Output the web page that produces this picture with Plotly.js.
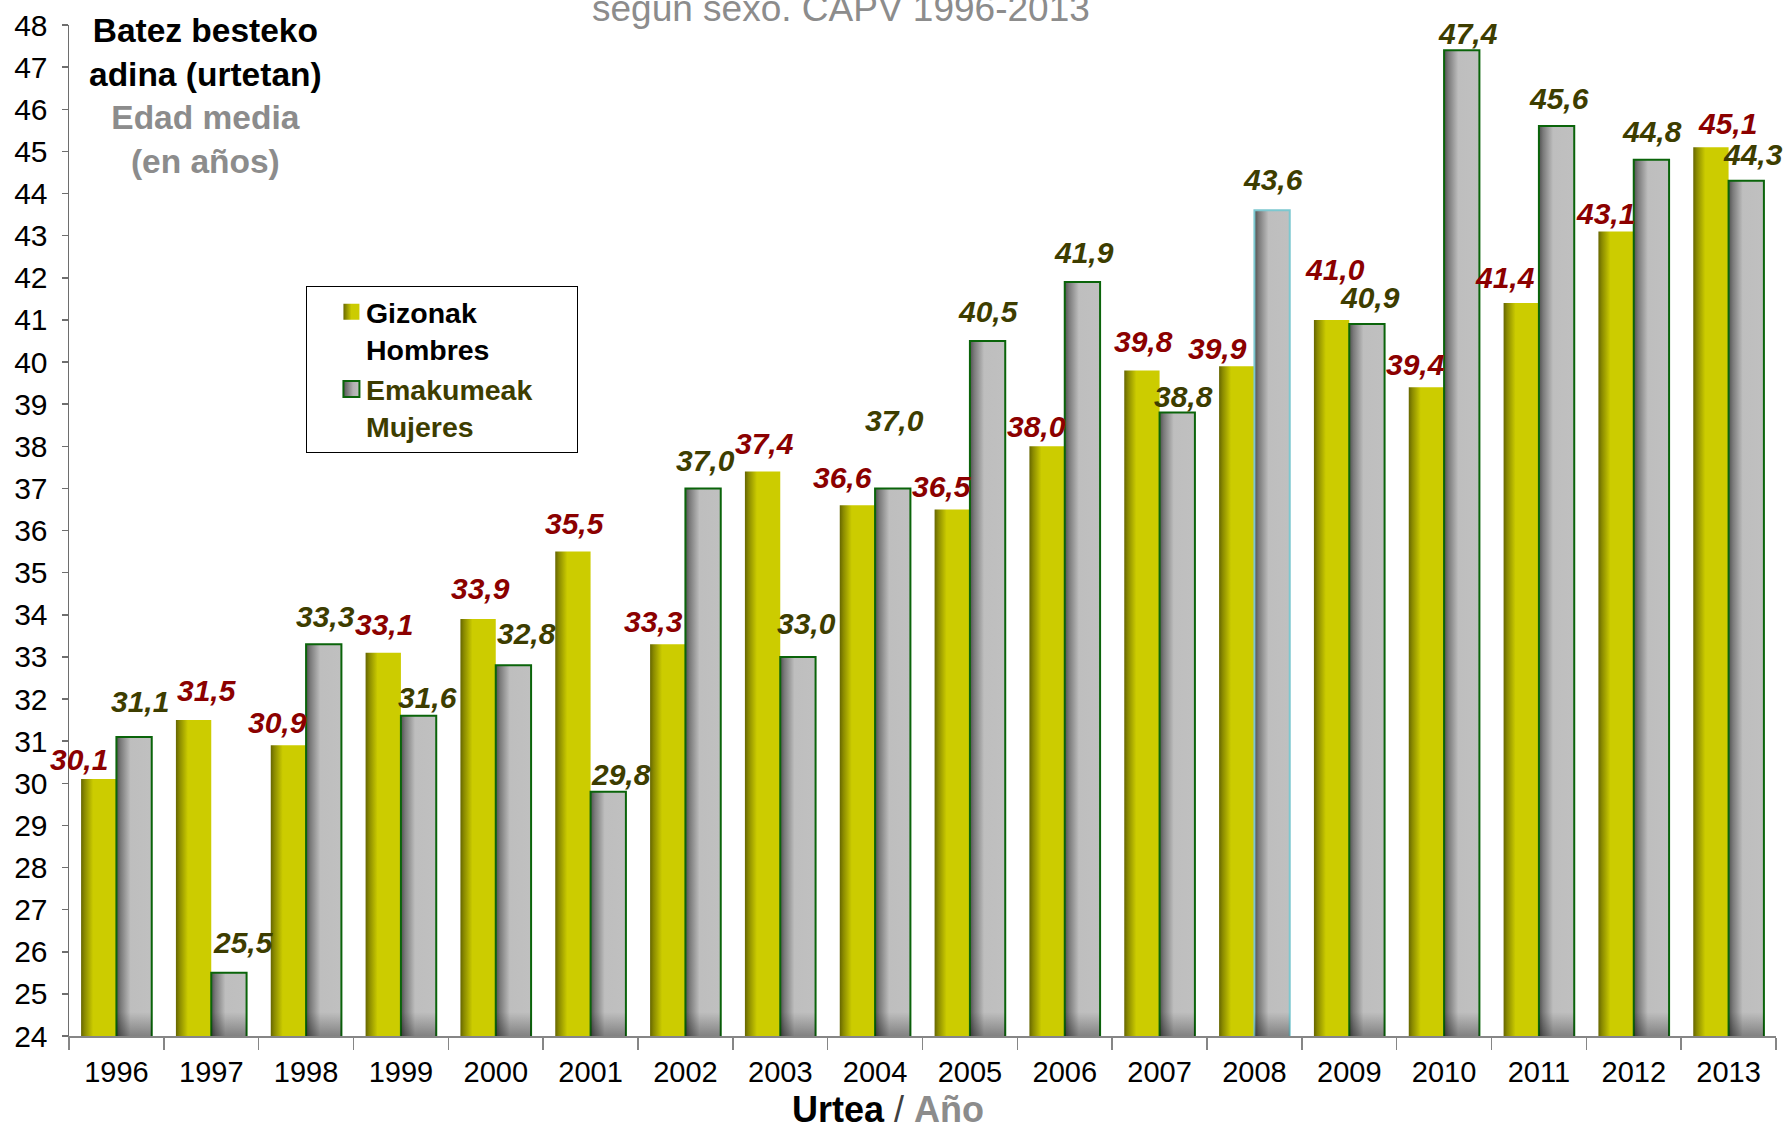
<!DOCTYPE html>
<html>
<head>
<meta charset="utf-8">
<script src="https://cdn.plot.ly/plotly-3.0.1.min.js"></script>
<style>
  html, body { margin: 0; padding: 0; background: #ffffff; }
  #chart { width: 1785px; height: 1126px; }
</style>
</head>
<body>
<div id="chart"></div>
<script>
// ---- data ----
const years = ['1996','1997','1998','1999','2000','2001','2002','2003','2004',
               '2005','2006','2007','2008','2009','2010','2011','2012','2013'];
const men   = [30.1,31.5,30.9,33.1,33.9,35.5,33.3,37.4,36.6,36.5,38.0,39.8,39.9,41.0,39.4,41.4,43.1,45.1];
const women = [31.1,25.5,33.3,31.6,32.8,29.8,37.0,33.0,37.0,40.5,41.9,38.8,43.6,40.9,47.4,45.6,44.8,44.3];
const menName   = 'Gizonak<br>Hombres';
const womenName = 'Emakumeak<br>Mujeres';

// ---- label placement (pixels, style only) ----
const menLabelDx   = [-20, 13,-11,  1,  2,  2,-14,  2,-15,-10,-11,  2,-19,  3,-11,-16,-11, 17];
const menLabelUp   = [ 20, 30, 23, 28, 30, 28, 23, 28, 28, 23, 20, 29, 18, 50, 23, 26, 18, 24];
const womenLabelDx = [  6, 15,  2,  9, 13, 13,  2,  9,  2,  1,  2,  6,  1,  3,  6,  2,  1,  7];
const womenLabelUp = [ 35, 30, 28, 18, 32, 17, 28, 33, 68, 29, 29, 16, 31, 27, 17, 28, 28, 26];

const FONT = "'Liberation Sans', Arial, Helvetica, sans-serif";
const MEN_LBL = '#8B0000';
const WOMEN_LBL = '#3D3D00';
const HALF_BAR = 17.7;

const fmt = v => v.toFixed(1).replace('.', ',');

const womenLine = years.map(y => y === '2008' ? '#7CC8D0' : '#0A640A');

const PAD = '&nbsp;&nbsp;&nbsp;&nbsp;&nbsp;';
const traces = [
  {
    type: 'bar', x: years, y: men, name: menName.replace('<br>', PAD + '<br>'),
    marker: { color: '#CCCC00', line: { width: 0 } },
    hoverinfo: 'x+y'
  },
  {
    type: 'bar', x: years, y: women,
    name: '<span style="color:' + WOMEN_LBL + '">' + womenName.replace('<br>', PAD + '<br>') + '</span>',
    marker: { color: '#C0C0C0', line: { color: womenLine, width: 2 } },
    hoverinfo: 'x+y'
  }
];

const annotations = [];
years.forEach((yr, i) => {
  annotations.push({
    xref: 'x', yref: 'y', x: i, y: men[i], text: '<b><i>' + fmt(men[i]) + '</i></b>',
    showarrow: false, xanchor: 'center', yanchor: 'middle',
    xshift: -HALF_BAR + menLabelDx[i], yshift: menLabelUp[i],
    font: { family: FONT, size: 30, color: MEN_LBL }
  });
  annotations.push({
    xref: 'x', yref: 'y', x: i, y: women[i], text: '<b><i>' + fmt(women[i]) + '</i></b>',
    showarrow: false, xanchor: 'center', yanchor: 'middle',
    xshift: HALF_BAR + womenLabelDx[i], yshift: womenLabelUp[i],
    font: { family: FONT, size: 30, color: WOMEN_LBL }
  });
});

// partially visible chart title at top
annotations.push({
  xref: 'paper', yref: 'paper', x: 0.452, y: 1.016, xanchor: 'center', yanchor: 'middle',
  text: 'según sexo. CAPV 1996-2013', showarrow: false,
  font: { family: FONT, size: 37, color: '#8C8C8C' }
});
// left unit label
annotations.push({
  xref: 'paper', yref: 'paper', x: 0.0797, y: 0.93, xanchor: 'center', yanchor: 'middle',
  align: 'center', showarrow: false,
  text: '<b>Batez besteko<br>adina (urtetan)</b><br><span style="color:#8C8C8C"><b>Edad media<br>(en años)</b></span>',
  font: { family: FONT, size: 33.5, color: '#000000' }
});
// x axis title
annotations.push({
  xref: 'paper', yref: 'paper', x: 0.48, y: 0, xanchor: 'center', yanchor: 'middle',
  yshift: -73, showarrow: false,
  text: '<b>Urtea</b><span style="color:#404040"> / </span><span style="color:#8C8C8C"><b>Año</b></span>',
  font: { family: FONT, size: 36, color: '#000000' }
});

const layout = {
  width: 1785, height: 1126,
  margin: { l: 69, r: 9, t: 25, b: 90, pad: 0 },
  paper_bgcolor: '#ffffff', plot_bgcolor: '#ffffff',
  font: { family: FONT, size: 28, color: '#000000' },
  barmode: 'group', bargap: 0.255, bargroupgap: 0,
  showlegend: true,
  legend: {
    x: 0.1388, y: 0.742, xanchor: 'left', yanchor: 'top',
    bgcolor: '#ffffff', bordercolor: '#000000', borderwidth: 1,
    font: { family: FONT, size: 28.5, color: '#000000', weight: 'bold' },
    valign: 'top', tracegroupgap: 0, itemwidth: 49
  },
  xaxis: {
    type: 'category', range: [-0.5, years.length - 0.5], autorange: false,
    showgrid: false, zeroline: false,
    showline: true, linecolor: '#868686', linewidth: 1.5,
    ticks: 'outside', tickson: 'boundaries', ticklen: 12, tickcolor: '#868686', tickwidth: 1.5,
    tickfont: { family: FONT, size: 29, color: '#000000' },
    tickangle: 0, ticklabelstandoff: 10
  },
  yaxis: {
    range: [24, 48], autorange: false, dtick: 1, tick0: 24, showgrid: false, zeroline: false,
    showline: true, linecolor: '#6E6E6E', linewidth: 1.5,
    ticks: 'outside', ticklen: 6, tickcolor: '#6E6E6E', tickwidth: 1.5,
    tickfont: { family: FONT, size: 30, color: '#000000' },
    ticklabelstandoff: 8
  },
  annotations: annotations
};

function addGradients(gd) {
  const svg = gd.querySelector('svg.main-svg');
  const ns = 'http://www.w3.org/2000/svg';
  const plotH = gd._fullLayout.yaxis._length;
  let defs = svg.querySelector('defs');
  if (!defs) { defs = document.createElementNS(ns, 'defs'); svg.insertBefore(defs, svg.firstChild); }
  function grad(id, stops, attrs) {
    const g = document.createElementNS(ns, 'linearGradient');
    g.setAttribute('id', id);
    Object.keys(attrs).forEach(k => g.setAttribute(k, attrs[k]));
    stops.forEach(s => {
      const st = document.createElementNS(ns, 'stop');
      st.setAttribute('offset', s[0]);
      st.setAttribute('stop-color', s[1]);
      st.setAttribute('stop-opacity', s[2] === undefined ? 1 : s[2]);
      g.appendChild(st);
    });
    defs.appendChild(g);
  }
  grad('gYellow', [[0,'#666600'],[0.1,'#8A8A00'],[0.34,'#CCCC00'],[1,'#CCCC00']], {x1:0,y1:0,x2:1,y2:0});
  grad('gGray', [[0,'#505050'],[0.12,'#7A7A7A'],[0.4,'#BEBEBE'],[1,'#C0C0C0']], {x1:0,y1:0,x2:1,y2:0});
  grad('gBottom', [[0,'#000000',0],[1,'#000000',0.32]],
       {gradientUnits:'userSpaceOnUse', x1:0, y1:plotH-24, x2:0, y2:plotH});
  grad('gLegY', [[0,'#6A6A00'],[0.5,'#CCCC00'],[1,'#CCCC00']], {x1:0,y1:0,x2:1,y2:0});
  grad('gLegG', [[0,'#555555'],[0.6,'#B0B0B0'],[1,'#C0C0C0']], {x1:0,y1:0,x2:1,y2:0});

  const traceGroups = gd.querySelectorAll('.barlayer .trace.bars');
  traceGroups.forEach((tg, ti) => {
    tg.querySelectorAll('.point path').forEach(p => {
      if (ti === 0) {
        p.style.fill = 'url(#gYellow)';
      } else {
        p.style.fill = 'url(#gGray)';
        const c = p.cloneNode(false);
        c.style.fill = 'url(#gBottom)';
        c.style.stroke = 'none';
        c.style.strokeWidth = '0';
        c.style.pointerEvents = 'none';
        p.parentNode.insertBefore(c, p.nextSibling);
      }
    });
  });
  const legItems = gd.querySelectorAll('.legend .traces');
  legItems.forEach((li, i) => {
    li.querySelectorAll('.legendpoints path').forEach(p => {
      p.setAttribute('d', 'M23,8H7V-8H23Z');
      p.style.fill = i === 0 ? 'url(#gLegY)' : 'url(#gLegG)';
      p.style.stroke = i === 1 ? '#0A640A' : 'none';
      p.style.strokeWidth = i === 1 ? '2px' : '0';
    });
  });
}

Plotly.newPlot('chart', traces, layout, { displayModeBar: false, staticPlot: true })
  .then(gd => addGradients(gd));
</script>
</body>
</html>
